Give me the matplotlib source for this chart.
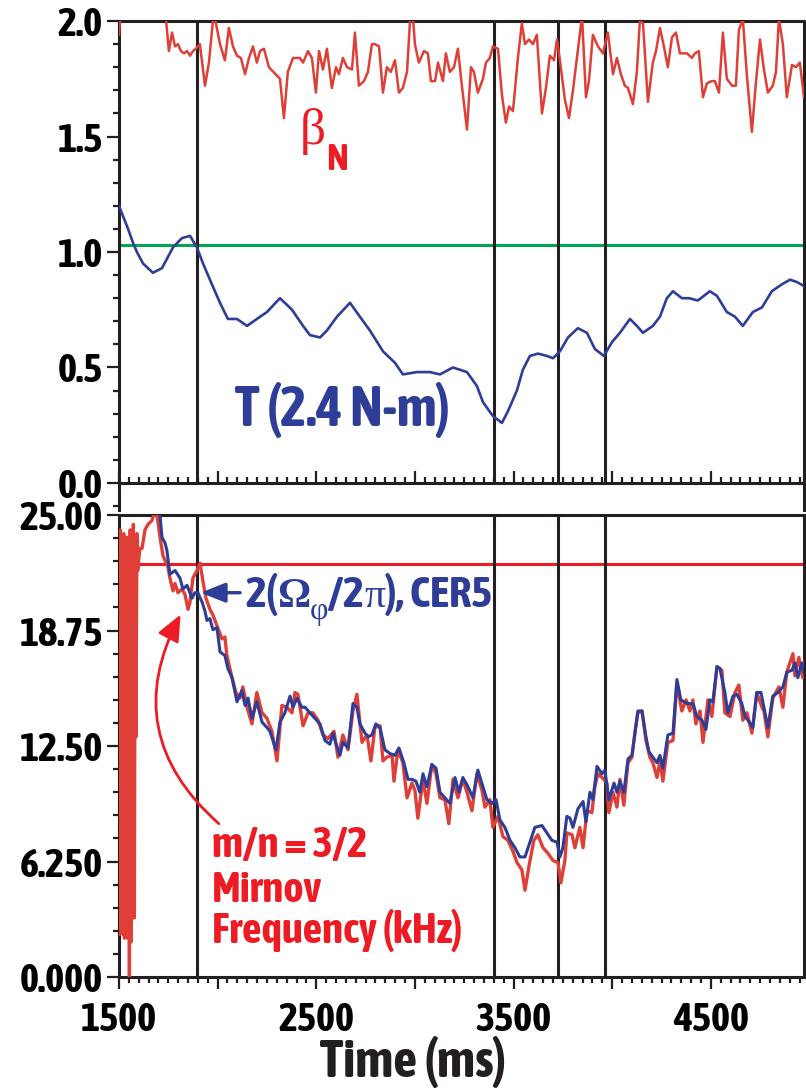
import matplotlib
matplotlib.use("Agg")
import matplotlib.pyplot as plt
from matplotlib import font_manager
from matplotlib.patches import FancyArrowPatch
from matplotlib.ticker import MultipleLocator, FixedLocator, FixedFormatter, FuncFormatter
from matplotlib.transforms import offset_copy

# ---- values ----
beta_t = [1500, 1510, 1600, 1700, 1738, 1753, 1769, 1784, 1799, 1814,
          1829, 1845, 1860, 1875, 1890, 1910, 1936, 1956, 1976, 1987,
          2012, 2037, 2057, 2078, 2098, 2118, 2139, 2159, 2179, 2199,
          2215, 2235, 2260, 2316, 2336, 2356, 2382, 2417, 2433, 2458,
          2478, 2498, 2514, 2534, 2554, 2579, 2600, 2615, 2635, 2656,
          2681, 2696, 2716, 2742, 2762, 2782, 2797, 2818, 2838, 2858,
          2878, 2899, 2919, 2939, 2960, 2975, 2990, 3000, 3020, 3046,
          3066, 3081, 3102, 3117, 3142, 3157, 3177, 3198, 3218, 3238,
          3264, 3284, 3299, 3319, 3345, 3360, 3380, 3395, 3421, 3441,
          3461, 3477, 3497, 3522, 3542, 3558, 3578, 3598, 3618, 3644,
          3664, 3684, 3705, 3720, 3735, 3760, 3781, 3801, 3847, 3867,
          3882, 3902, 3928, 3953, 3978, 4004, 4024, 4044, 4064, 4080,
          4105, 4125, 4140, 4156, 4181, 4206, 4222, 4242, 4262, 4282,
          4303, 4323, 4343, 4379, 4404, 4419, 4439, 4460, 4480, 4505,
          4520, 4541, 4561, 4581, 4607, 4627, 4642, 4662, 4683, 4708,
          4728, 4749, 4769, 4789, 4814, 4830, 4845, 4865, 4885, 4911,
          4931, 4951, 4972]
beta_v = [1.94, 2.05, 2.15, 2.12, 2.01, 1.87, 1.95, 1.89, 1.90, 1.87,
          1.86, 1.87, 1.85, 1.87, 1.88, 1.90, 1.72, 1.82, 2.00, 2.01,
          1.90, 1.83, 1.97, 1.89, 1.85, 1.84, 1.77, 1.84, 1.89, 1.82,
          1.87, 1.88, 1.80, 1.75, 1.58, 1.78, 1.84, 1.84, 1.82, 1.87,
          1.84, 1.69, 1.87, 1.79, 1.88, 1.71, 1.80, 1.77, 1.84, 1.80,
          1.79, 1.95, 1.72, 1.74, 1.78, 1.90, 1.90, 1.89, 1.69, 1.80,
          1.78, 1.83, 1.69, 1.71, 1.78, 2.00, 2.02, 1.90, 1.82, 1.87,
          1.86, 1.74, 1.74, 1.82, 1.74, 1.86, 1.78, 1.80, 1.88, 1.72,
          1.53, 1.80, 1.78, 1.69, 1.75, 1.82, 1.84, 1.89, 1.88, 1.68,
          1.56, 1.63, 1.61, 1.84, 1.99, 1.90, 1.92, 1.90, 1.94, 1.60,
          1.71, 1.85, 1.83, 1.92, 1.83, 1.66, 1.58, 1.70, 2.02, 1.67,
          1.74, 1.94, 1.89, 1.86, 1.95, 1.77, 1.84, 1.77, 1.72, 1.71,
          1.64, 1.78, 2.00, 1.99, 1.65, 1.82, 1.87, 1.97, 1.89, 1.80,
          1.93, 1.95, 1.86, 1.86, 1.84, 1.86, 1.87, 1.67, 1.73, 1.74,
          1.74, 1.69, 1.95, 1.75, 1.72, 1.72, 1.96, 2.01, 1.76, 1.52,
          1.73, 1.92, 1.79, 1.69, 1.72, 1.78, 2.01, 1.90, 1.67, 1.81,
          1.80, 1.82, 1.67]

torque_t = [1500, 1546, 1571, 1591, 1622, 1672, 1718, 1774, 1819, 1860,
            1895, 1926, 1961, 2012, 2052, 2098, 2149, 2199, 2250, 2316,
            2377, 2433, 2468, 2519, 2554, 2605, 2671, 2721, 2772, 2838,
            2899, 2939, 3010, 3076, 3127, 3193, 3264, 3314, 3345, 3395,
            3441, 3471, 3517, 3547, 3583, 3624, 3669, 3700, 3735, 3776,
            3826, 3872, 3912, 3958, 3999, 4039, 4090, 4125, 4156, 4206,
            4242, 4277, 4308, 4353, 4389, 4434, 4495, 4531, 4581, 4622,
            4662, 4713, 4759, 4809, 4860, 4901, 4936, 4977]
torque_v = [1.20, 1.10, 1.04, 1.00, 0.95, 0.91, 0.93, 1.02, 1.06, 1.07,
            1.02, 0.95, 0.88, 0.78, 0.71, 0.71, 0.68, 0.71, 0.74, 0.80,
            0.75, 0.68, 0.64, 0.63, 0.66, 0.72, 0.78, 0.72, 0.66, 0.57,
            0.52, 0.47, 0.48, 0.48, 0.47, 0.50, 0.48, 0.42, 0.35, 0.29,
            0.26, 0.31, 0.40, 0.49, 0.55, 0.56, 0.55, 0.54, 0.57, 0.63,
            0.67, 0.65, 0.58, 0.55, 0.61, 0.65, 0.71, 0.68, 0.65, 0.68,
            0.72, 0.80, 0.83, 0.80, 0.80, 0.79, 0.83, 0.81, 0.74, 0.72,
            0.68, 0.74, 0.76, 0.83, 0.86, 0.88, 0.87, 0.85]

omega_t = [1690, 1708, 1718, 1733, 1743, 1758, 1784, 1809, 1824, 1845,
           1870, 1885, 1900, 1921, 1936, 1946, 1961, 1976, 1997, 2012,
           2037, 2052, 2073, 2098, 2123, 2139, 2154, 2174, 2199, 2225,
           2250, 2265, 2296, 2316, 2341, 2367, 2382, 2402, 2427, 2443,
           2468, 2493, 2519, 2544, 2569, 2585, 2595, 2610, 2620, 2635,
           2661, 2686, 2706, 2721, 2747, 2762, 2782, 2802, 2823, 2848,
           2873, 2899, 2919, 2944, 2965, 2985, 3005, 3025, 3041, 3061,
           3086, 3107, 3127, 3152, 3177, 3203, 3223, 3243, 3269, 3294,
           3319, 3345, 3365, 3390, 3411, 3431, 3456, 3482, 3507, 3532,
           3558, 3583, 3608, 3644, 3669, 3694, 3720, 3735, 3750, 3770,
           3786, 3801, 3826, 3852, 3867, 3887, 3902, 3923, 3948, 3963,
           3983, 4009, 4024, 4039, 4059, 4080, 4100, 4115, 4130, 4151,
           4171, 4186, 4206, 4227, 4242, 4257, 4282, 4308, 4328, 4348,
           4363, 4384, 4409, 4429, 4455, 4475, 4495, 4510, 4531, 4546,
           4571, 4586, 4612, 4632, 4657, 4673, 4688, 4713, 4733, 4754,
           4769, 4789, 4814, 4840, 4865, 4885, 4911, 4926, 4941, 4961,
           4982]
omega_v = [25.5, 25.0, 23.8, 23.5, 23.1, 21.8, 22.0, 21.6, 21.0, 21.2,
           20.5, 20.8, 20.8, 20.3, 19.8, 19.3, 19.4, 18.8, 18.9, 17.6,
           17.4, 16.7, 16.2, 14.9, 15.5, 14.7, 15.1, 14.0, 14.9, 13.8,
           13.5, 13.3, 12.3, 13.8, 14.3, 15.2, 14.6, 15.1, 14.6, 14.6,
           14.3, 14.0, 13.7, 12.8, 12.6, 13.2, 12.8, 12.3, 12.0, 12.7,
           12.4, 14.8, 14.6, 13.7, 13.2, 13.0, 13.1, 13.7, 13.5, 12.3,
           12.1, 12.0, 12.4, 11.6, 10.7, 10.7, 10.6, 10.0, 11.0, 10.3,
           11.5, 11.3, 10.0, 9.7, 9.4, 10.8, 10.0, 10.8, 10.3, 9.7,
           11.2, 10.3, 9.6, 9.4, 9.6, 8.5, 8.1, 7.4, 7.0, 6.5,
           6.5, 7.3, 8.1, 8.2, 7.8, 7.4, 7.3, 6.5, 7.0, 8.7,
           8.6, 8.1, 9.1, 9.5, 8.4, 10.0, 9.6, 11.4, 11.0, 11.2,
           9.6, 10.5, 10.0, 10.6, 10.0, 11.8, 12.0, 13.2, 14.4, 14.4,
           13.0, 12.2, 11.9, 11.6, 12.0, 11.3, 13.1, 13.2, 16.1, 15.0,
           14.9, 14.8, 14.8, 14.1, 13.9, 13.4, 15.0, 14.9, 16.8, 16.7,
           15.4, 14.3, 15.2, 15.3, 14.8, 14.1, 13.9, 13.5, 15.4, 15.4,
           14.6, 13.5, 15.2, 15.4, 15.7, 16.5, 16.6, 17.0, 16.2, 17.0,
           16.1]

mirnov_t = [1500, 1503, 1507, 1511, 1516, 1520, 1524, 1528, 1532, 1536,
            1541, 1545, 1549, 1553, 1557, 1561, 1565, 1569, 1573, 1578,
            1582, 1586, 1591, 1595, 1606, 1617, 1632, 1647, 1667, 1682,
            1693, 1708, 1723, 1748, 1758, 1774, 1784, 1799, 1819, 1835,
            1850, 1860, 1875, 1895, 1911, 1926, 1941, 1961, 1976, 1997,
            2022, 2037, 2047, 2073, 2093, 2113, 2128, 2149, 2174, 2199,
            2225, 2250, 2275, 2301, 2326, 2351, 2377, 2392, 2407, 2433,
            2458, 2483, 2509, 2534, 2559, 2590, 2610, 2635, 2661, 2686,
            2706, 2732, 2757, 2777, 2797, 2823, 2838, 2858, 2884, 2894,
            2914, 2939, 2960, 2985, 3000, 3015, 3041, 3061, 3086, 3107,
            3127, 3152, 3172, 3193, 3218, 3243, 3264, 3289, 3314, 3340,
            3355, 3380, 3395, 3421, 3446, 3471, 3497, 3517, 3542, 3558,
            3578, 3603, 3623, 3649, 3674, 3700, 3725, 3740, 3760, 3770,
            3796, 3811, 3836, 3852, 3872, 3897, 3912, 3928, 3948, 3973,
            3983, 4004, 4024, 4039, 4059, 4080, 4100, 4115, 4130, 4151,
            4171, 4191, 4206, 4227, 4242, 4257, 4282, 4308, 4328, 4353,
            4374, 4394, 4409, 4424, 4445, 4460, 4485, 4505, 4531, 4556,
            4571, 4597, 4622, 4642, 4662, 4683, 4708, 4733, 4759, 4769,
            4789, 4814, 4845, 4865, 4885, 4916, 4926, 4946, 4966, 4982]
mirnov_v = [20.3, 2.3, 24.2, 2.4, 23.5, 2.3, 24.0, 2.1, 23.5, 13.1,
            23.8, 2.1, 22.4, 0.0, 24.2, 1.9, 23.0, 3.2, 24.5, 3.2,
            22.5, 13.0, 24.0, 22.0, 23.2, 23.2, 24.2, 24.5, 24.7, 25.2,
            25.0, 23.8, 22.8, 22.2, 21.6, 20.9, 21.3, 20.8, 21.0, 20.7,
            19.9, 20.3, 21.6, 22.0, 22.4, 21.4, 20.5, 19.9, 19.6, 19.0,
            18.3, 18.4, 17.4, 16.2, 15.4, 15.1, 15.7, 14.6, 13.7, 15.4,
            14.3, 14.0, 13.3, 11.7, 14.7, 14.6, 14.3, 15.4, 15.3, 13.6,
            14.3, 14.3, 13.9, 13.1, 12.9, 13.3, 11.9, 13.1, 12.3, 14.4,
            15.3, 12.7, 13.1, 11.7, 13.5, 13.6, 11.7, 11.9, 12.0, 10.6,
            12.3, 11.6, 9.7, 10.5, 10.1, 8.6, 10.7, 9.4, 11.5, 11.0,
            9.7, 9.6, 8.3, 10.7, 9.7, 10.7, 10.0, 9.0, 11.0, 10.1,
            9.2, 9.6, 8.1, 8.7, 7.6, 7.4, 6.8, 6.2, 5.8, 4.7,
            6.0, 7.4, 7.7, 7.0, 6.7, 6.3, 6.2, 5.1, 6.3, 7.8,
            7.7, 7.0, 8.1, 7.0, 9.0, 8.9, 10.3, 11.0, 10.8, 10.5,
            8.9, 10.0, 9.2, 10.7, 9.3, 11.6, 11.9, 13.2, 14.3, 14.4,
            12.8, 11.9, 11.6, 10.8, 11.7, 10.6, 12.7, 12.8, 15.9, 14.4,
            15.0, 14.4, 15.0, 13.7, 14.4, 12.7, 15.0, 14.1, 16.8, 16.6,
            14.3, 14.1, 15.4, 15.8, 13.9, 14.3, 13.2, 15.4, 14.6, 14.4,
            13.0, 15.1, 15.7, 14.6, 16.5, 17.5, 16.3, 17.3, 16.2, 17.4]

event_times = [1895, 3400, 3725, 3965]
torque_ref = 1.03
freq_ref = 22.35
freq_ticks = [0, 6.25, 12.5, 18.75, 25]
freq_labels = ["0.000", "6.250", "12.50", "18.75", "25.00"]
beta_ticks = [0.0, 0.5, 1.0, 1.5, 2.0]

# ---- fonts: the reference uses a condensed bold sans ----
flist = font_manager.fontManager.ttflist
installed = {f.name for f in flist}


def wnum(w):
    if isinstance(w, (int, float)):
        return int(w)
    return font_manager.weight_dict.get(str(w).lower(), 400)


cands = [f for f in flist
         if ("Condensed" in f.name or "Narrow" in f.name) and f.style == "normal"]
cands.sort(key=lambda f: abs(wnum(f.weight) - 700))
if cands and wnum(cands[0].weight) >= 600:
    NARROW, WEIGHT, STRETCH = cands[0].name, wnum(cands[0].weight), cands[0].stretch
else:
    NARROW = "Roboto" if "Roboto" in installed else "Liberation Sans"
    WEIGHT, STRETCH = 700, "normal"
SERIF = "Liberation Serif" if "Liberation Serif" in installed else "DejaVu Serif"

plt.rcParams["font.family"] = [NARROW, "DejaVu Sans"]
plt.rcParams["font.weight"] = WEIGHT
plt.rcParams["font.stretch"] = STRETCH

BLACK = "#231F20"
RED = "#ED1C24"
LINE_RED = "#DE3F37"
BLUE = "#2E3D98"
GREEN = "#00A651"

fig = plt.figure(figsize=(8.06, 10.89), dpi=100)
renderer = fig.canvas.get_renderer()


def fit(s, px, cap):
    # font size (pt) at which s is about px pixels wide, capped
    t = fig.text(0, 0, s, fontsize=10)
    w = t.get_window_extent(renderer).width
    t.remove()
    return min(cap, 10 * px / w)


TICK = fit("25.00", 82, 30)
TORQ = fit("T (2.4 N-m)", 222, 40)
MIRN = fit("Frequency (kHz)", 256, 31)
TIME = fit("Time (ms)", 190, 38)
NSUB = fit("N", 22, 30)
OMEG = fit("2(/2), CER5", 188, 32)

ax1 = fig.add_axes([0.1476, 0.5317, 0.8499, 0.4490])
ax2 = fig.add_axes([0.1476, 0.1028, 0.8499, 0.4242])

for ax in (ax1, ax2):
    ax.set_xlim(1500, 4972)
    for s in ax.spines.values():
        s.set_linewidth(2.2)
        s.set_color(BLACK)
    ax.xaxis.set_major_locator(MultipleLocator(500))
    ax.xaxis.set_minor_locator(MultipleLocator(50))
    ax.tick_params(which="major", length=8.6, width=1.6, color=BLACK)
    ax.tick_params(which="minor", length=4.3, width=1.6, color=BLACK)
    ax.tick_params(axis="y", which="both", direction="out", pad=3, labelsize=TICK)
    ax.tick_params(top=False, right=False)

# ---- top panel: beta_N and torque ----
ax1.set_ylim(-0.117, 2.0)
ax1.spines["bottom"].set_position(("data", 0))
ax1.tick_params(axis="x", which="both", direction="in", labelbottom=False)
ax1.yaxis.set_major_locator(FixedLocator(beta_ticks))
ax1.yaxis.set_minor_locator(MultipleLocator(0.1))
ax1.yaxis.set_major_formatter(FuncFormatter(lambda v, p: f"{v:.1f}"))

ax1.axhline(torque_ref, color=GREEN, lw=2.2, zorder=1)
ax1.vlines(event_times, 0, 2.0, color=BLACK, lw=2.2, zorder=2)
ax1.plot(beta_t, beta_v, color=LINE_RED, lw=1.8, zorder=3)
ax1.plot(torque_t, torque_v, color=BLUE, lw=1.9, zorder=3)

ax1.text(2417, 1.467, "\u03b2", family=SERIF, fontweight="normal", fontsize=37,
         color=RED, va="baseline")
ax1.text(2549, 1.355, "N", fontsize=NSUB, color=RED, va="baseline")
ax1.text(2088, 0.247, "T (2.4 N-m)", fontsize=TORQ, color=BLUE, va="baseline")

# ---- bottom panel: frequencies ----
ax2.set_ylim(0, 25)
ax2.yaxis.set_major_locator(FixedLocator(freq_ticks))
ax2.yaxis.set_major_formatter(FixedFormatter(freq_labels))
ax2.yaxis.set_minor_locator(MultipleLocator(1.25))
ax2.tick_params(axis="x", which="both", direction="out", pad=9, labelsize=TICK)
ax2.xaxis.set_major_formatter(
    FuncFormatter(lambda v, p: f"{v:.0f}" if int(round(v)) % 1000 == 500 else ""))

ax2.axhline(freq_ref, color=RED, lw=2.2, zorder=1)
for t in event_times:
    ax2.axvline(t, color=BLACK, lw=2.2, zorder=2)
ax2.plot(mirnov_t, mirnov_v, color=LINE_RED, lw=2.4, zorder=3)
ax2.plot(omega_t, omega_v, color=BLUE, lw=2.2, zorder=4)


def piecewise(ax, x, y, pieces, color):
    shift = 0.0
    for s, fam, size, weight, dy in pieces:
        tr = offset_copy(ax.transData, fig=fig, x=shift, y=dy, units="dots")
        t = ax.text(x, y, s, transform=tr, family=fam, fontsize=size,
                    fontweight=weight, color=color, va="baseline", ha="left", zorder=6)
        shift += t.get_window_extent(renderer).width


SANS = [NARROW, "DejaVu Sans"]
piecewise(ax2, 2139, 20.0, [
    ("2(", SANS, OMEG, WEIGHT, 0),
    ("\u03a9", SERIF, 30, "bold", 0),
    ("\u03c6", SERIF, 23, "normal", -12),
    ("/2", SANS, OMEG, WEIGHT, 0),
    ("\u03c0", SERIF, 30, "normal", 0),
    ("), CER5", SANS, OMEG, WEIGHT, 0),
], BLUE)

ax2.add_patch(FancyArrowPatch((2128, 20.8), (1900, 20.8),
                              arrowstyle="-|>,head_length=0.75,head_width=0.3",
                              mutation_scale=20, color=BLUE, lw=2.4, zorder=5))

ax2.text(1971, 6.49, "m/n = 3/2", fontsize=MIRN, color=RED, va="baseline")
ax2.text(1971, 4.06, "Mirnov", fontsize=MIRN, color=RED, va="baseline")
ax2.text(1971, 1.84, "Frequency (kHz)", fontsize=MIRN, color=RED, va="baseline")

ax2.add_patch(FancyArrowPatch((2017, 8.2), (1819, 19.75),
                              connectionstyle="arc3,rad=-0.4",
                              arrowstyle="-|>,head_length=0.8,head_width=0.35",
                              mutation_scale=20, color=RED, lw=2.0, zorder=5))

fig.text(413 / 806, 1 - 1077 / 1089, "Time (ms)", fontsize=TIME, color=BLACK,
         ha="center", va="baseline")

fig.savefig("out.png", dpi=100)
